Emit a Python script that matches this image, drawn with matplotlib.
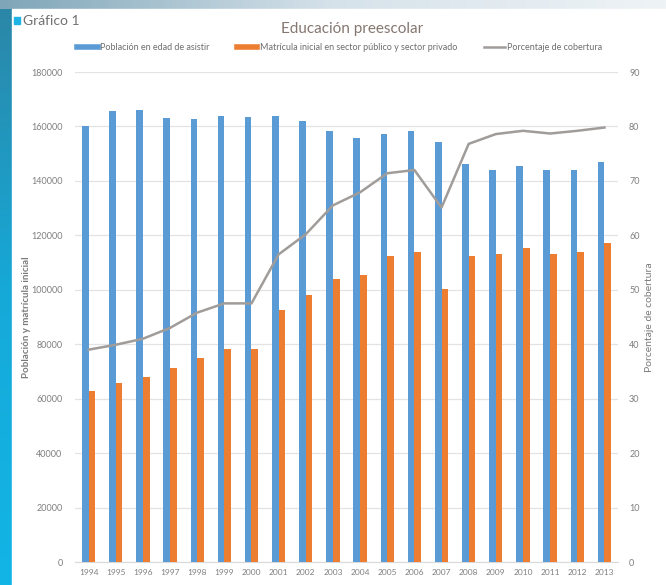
import numpy as np
import matplotlib
matplotlib.use("Agg")
import matplotlib.pyplot as plt
from matplotlib.lines import Line2D
from matplotlib.patches import Rectangle
from matplotlib.colors import LinearSegmentedColormap

plt.rcParams['font.family'] = ['Lato', 'DejaVu Sans']

# data
years = ['1994', '1995', '1996', '1997', '1998', '1999', '2000', '2001', '2002', '2003',
         '2004', '2005', '2006', '2007', '2008', '2009', '2010', '2011', '2012', '2013']
poblacion = [160300, 165600, 166200, 163200, 162800, 163800, 163400, 164000, 162000, 158500,
             155700, 157300, 158500, 154300, 146300, 144000, 145500, 144000, 144000, 146900]
matricula = [62700, 65900, 68100, 71100, 75100, 78100, 78100, 92600, 98000, 103800,
             105600, 112300, 113900, 100400, 112300, 113300, 115200, 113300, 113900, 117100]
cobertura = [39.0, 39.9, 41.0, 43.0, 45.8, 47.5, 47.5, 56.5, 60.2, 65.5,
             67.9, 71.4, 72.0, 65.1, 76.8, 78.6, 79.2, 78.7, 79.2, 79.8]

blue = '#5b9bd5'
orange = '#ed7d31'
grey_line = '#a09c9a'
tick_col = '#7f7f7f'

fig = plt.figure(figsize=(6.66, 5.85), dpi=100)

# page decoration: blue strip on the left, light band on top
bg = fig.add_axes([0, 0, 1, 1], zorder=-10)
bg.axis('off')
grad = np.linspace(0, 1, 200).reshape(-1, 1)
bg.imshow(grad, extent=[0, 12, 585, 0], aspect='auto',
          cmap=LinearSegmentedColormap.from_list('strip', ['#2c86a6', '#16a9d8', '#12b5e6']))
topgrad = np.linspace(0, 1, 200).reshape(1, -1)
bg.imshow(topgrad, extent=[0, 666, 9, 0], aspect='auto',
          cmap=LinearSegmentedColormap.from_list('top', ['#7fa6b8', '#d6e2ea', '#eef3f6']))
bg.add_patch(Rectangle((12, 9), 654, 576, color='white', zorder=2))
bg.add_patch(Rectangle((14, 17), 6, 7, color='#1fb4e6', zorder=3))
bg.text(23, 21, 'Gráfico 1', fontsize=10, color='#707070', va='center', ha='left', zorder=3)
bg.set_xlim(0, 666)
bg.set_ylim(585, 0)

ax = fig.add_axes([75 / 666, 1 - 562 / 585, 543 / 666, 490 / 585])
ax2 = ax.twinx()

x = np.arange(len(years))
w = 0.245
ax.bar(x - w / 2, poblacion, w, color=blue, zorder=3)
ax.bar(x + w / 2, matricula, w, color=orange, zorder=3)
ax2.plot(x, cobertura, color=grey_line, lw=1.8, zorder=4)

ax.set_xlim(-0.5, len(years) - 0.5)
ax.set_ylim(0, 180000)
ax.set_yticks(np.arange(0, 180001, 20000))
ax2.set_ylim(0, 90)
ax2.set_yticks(np.arange(0, 91, 10))
ax.set_xticks(x)
ax.set_xticklabels(years)
ax.grid(axis='y', color='#e3e3e3', lw=0.9, zorder=0)

for a in (ax, ax2):
    for s in a.spines.values():
        s.set_visible(False)
    a.tick_params(length=0, labelsize=6.5, labelcolor=tick_col)
ax.spines['bottom'].set_visible(True)
ax.spines['bottom'].set_color('#d9d9d9')
ax.tick_params(axis='y', pad=9)
ax2.tick_params(axis='y', pad=8)
ax.tick_params(axis='x', pad=5, labelsize=6)

ax.set_ylabel('Población y matrícula inicial', fontsize=7, color='#7a7a7a', fontweight='bold')
ax.yaxis.set_label_coords((31 - 75) / 543, 0.5)
ax2.set_ylabel('Porcentaje de cobertura', fontsize=7.5, color='#7a7a7a')
ax2.yaxis.set_label_coords((645 - 75) / 543, 0.5)

fig.suptitle('Educación preescolar', x=0.528, y=0.962, fontsize=11, color='#857770')

handles = [Line2D([], [], color=blue, lw=4),
           Line2D([], [], color=orange, lw=4),
           Line2D([], [], color=grey_line, lw=1.8)]
labels = ['Población en edad de asistir',
          'Matrícula inicial en sector público y sector privado',
          'Porcentaje de cobertura']
fig.legend(handles, labels, loc='center', bbox_to_anchor=(0.51, 1 - 48 / 585), ncol=3,
           frameon=False, fontsize=6.5, labelcolor='#6e6e6e', handlelength=2.3,
           handletextpad=0.25, columnspacing=3.0)

fig.savefig('out.png', dpi=100)
